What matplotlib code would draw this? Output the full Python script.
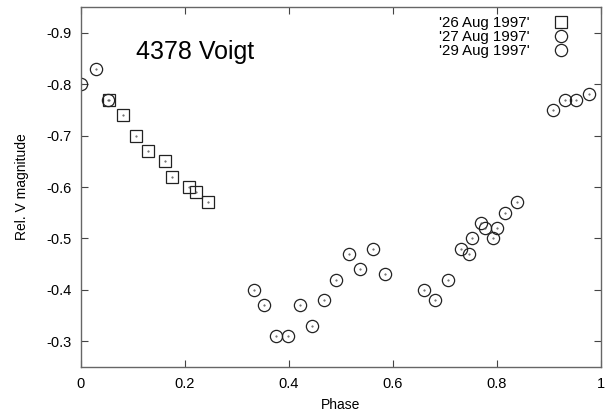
import matplotlib
matplotlib.use("Agg")
import matplotlib.pyplot as plt

plt.rcParams['font.family'] = ['Liberation Sans', 'DejaVu Sans']
plt.rcParams['axes.unicode_minus'] = False

# '26 Aug 1997' (squares)
phase_26 = [0.054, 0.081, 0.106, 0.129, 0.162, 0.175, 0.208, 0.221, 0.244]
mag_26 = [-0.77, -0.74, -0.70, -0.67, -0.65, -0.62, -0.60, -0.59, -0.57]

# '27 Aug 1997' (circles)
phase_27 = [0.333, 0.352, 0.375, 0.398, 0.421, 0.444, 0.467, 0.490, 0.515, 0.537, 0.561, 0.585]
mag_27 = [-0.40, -0.37, -0.31, -0.31, -0.37, -0.33, -0.38, -0.42, -0.47, -0.44, -0.48, -0.43]

# '29 Aug 1997' (circles)
phase_29 = [0.0, 0.029, 0.052, 0.659, 0.681, 0.705, 0.731, 0.746, 0.751, 0.769, 0.777,
            0.792, 0.800, 0.816, 0.839, 0.907, 0.930, 0.952, 0.976]
mag_29 = [-0.80, -0.83, -0.77, -0.40, -0.38, -0.42, -0.48, -0.47, -0.50, -0.53, -0.52,
          -0.50, -0.52, -0.55, -0.57, -0.75, -0.77, -0.77, -0.78]

fig = plt.figure(figsize=(6.08, 4.15), dpi=100)
ax = fig.add_axes([0.1332, 0.1157, 0.8553, 0.8673])

ax.plot(phase_26, mag_26, ls='none', marker='s', ms=8.6, mfc='none', mec='#222222',
        mew=0.9, label="'26 Aug 1997'")
ax.plot(phase_27, mag_27, ls='none', marker='o', ms=8.8, mfc='none', mec='#222222',
        mew=0.9, label="'27 Aug 1997'")
ax.plot(phase_29, mag_29, ls='none', marker='o', ms=8.8, mfc='none', mec='#222222',
        mew=0.9, label="'29 Aug 1997'")
# tiny centre dots
for xs, ys in [(phase_26, mag_26), (phase_27, mag_27), (phase_29, mag_29)]:
    ax.plot(xs, ys, ls='none', marker='.', ms=1.0, color='#555555')

ax.set_xlim(0, 1)
ax.set_ylim(-0.25, -0.95)
ax.set_xticks([0, 0.2, 0.4, 0.6, 0.8, 1])
ax.set_xticklabels(['0', '0.2', '0.4', '0.6', '0.8', '1'])
ax.set_yticks([-0.3, -0.4, -0.5, -0.6, -0.7, -0.8, -0.9])
ax.tick_params(direction='in', top=True, right=True, length=5, width=0.8,
               labelsize=10.5, color='#444444', pad=7)
for s in ax.spines.values():
    s.set_color('#666666')
    s.set_linewidth(1.0)

ax.set_xlabel('Phase', fontsize=10)
ax.xaxis.set_label_coords(0.5, -0.085)
ax.set_ylabel('Rel. V magnitude', fontsize=10)
ax.yaxis.set_label_coords(-0.1, 0.5)

ax.text(0.105, 0.855, '4378 Voigt', transform=ax.transAxes, fontsize=18)

leg = ax.legend(loc='upper right', markerfirst=False, frameon=False, fontsize=10.8,
                handletextpad=1.6, labelspacing=0.0, borderaxespad=0.2,
                bbox_to_anchor=(0.955, 1.0), handlelength=1.0, markerscale=1.0)

fig.savefig('out.png', dpi=100)
